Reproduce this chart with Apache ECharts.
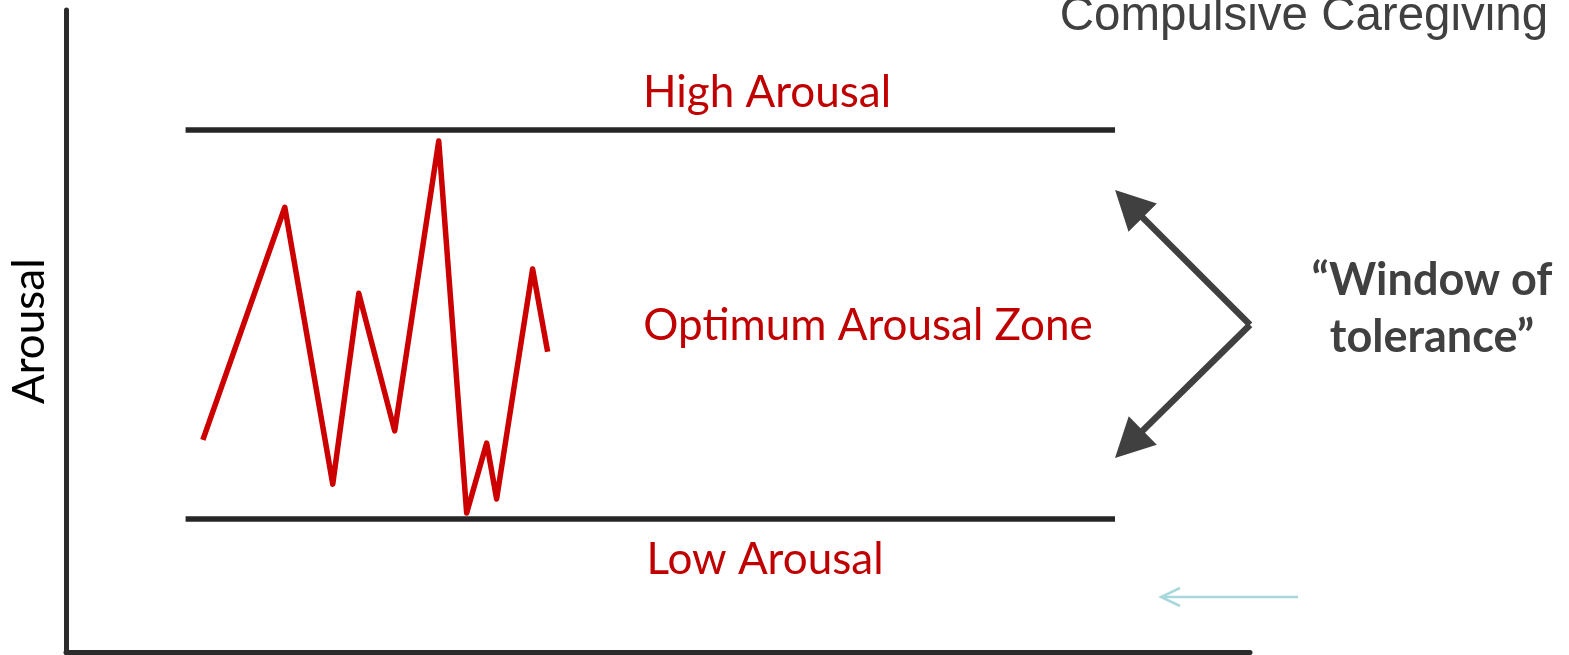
<!DOCTYPE html>
<html>
<head>
<meta charset="utf-8">
<title>Window of tolerance</title>
<script src="https://cdn.jsdelivr.net/npm/echarts@6/dist/echarts.min.js"></script>
<style>
  html, body { margin: 0; padding: 0; background: #fff; }
  #container { width: 1569px; height: 655px; }
</style>
</head>
<body>
<div id="container"></div>
<script>
// arousal trace (time, arousal level)
var timeSteps = [11.56, 18.48, 22.53, 24.73, 27.76, 31.48, 33.84, 35.53, 36.37, 39.41, 40.68];
var arousal = [33.1, 69.3, 26.2, 55.9, 34.5, 79.6, 21.7, 32.6, 23.9, 59.7, 46.8];

// zone limits
var highArousal = 81.3;
var lowArousal = 20.8;
var zoneStart = 10.1;
var zoneEnd = 88.6;

// "window of tolerance" arrows: vertex, upper head, lower head (head centres)
var windowVertex = [100, 51.0];
var windowUpper = [89.77, 69.84];
var windowLower = [89.77, 32.42];

var dom = document.getElementById("container");
var myChart = echarts.init(dom);

function getLineData() {
	var arr = [];
	for (var i = 0; i < timeSteps.length; i++) {
		arr.push([timeSteps[i], arousal[i]]);
	}
	return arr;
}

function centerText(x, y, text, font, color) {
	return {
		type: 'text', x: x, y: y,
		style: {
			text: text, font: font, fill: color,
			align: 'center', verticalAlign: 'middle',
			textAlign: 'center', textVerticalAlign: 'middle'
		}
	};
}

var redFont = '44px Lato';
var arrowColor = '#404040';

var option = {
	animation: false,
	grid: { left: 65, top: 10, right: 319, bottom: 2.5 },
	xAxis: {
		type: 'value', min: 0, max: 100,
		axisLine: { show: true, lineStyle: { color: '#2b2b2b', width: 5 } },
		axisTick: { show: false }, axisLabel: { show: false }, splitLine: { show: false }
	},
	yAxis: {
		type: 'value', min: 0, max: 100,
		name: 'Arousal', nameLocation: 'middle', nameRotate: 90, nameGap: 14,
		nameTextStyle: { fontFamily: 'Lato', fontSize: 44, color: '#000' },
		axisLine: { show: true, lineStyle: { color: '#2b2b2b', width: 5 } },
		axisTick: { show: false }, axisLabel: { show: false }, splitLine: { show: false }
	},
	series: [
		{
			type: 'line',
			data: getLineData(),
			symbol: 'none',
			clip: false,
			lineStyle: { color: '#cc0000', width: 5.5, join: 'round' },
			z: 5,
			markLine: {
				silent: true,
				symbol: ['none', 'none'],
				label: { show: false },
				emphasis: { disabled: true },
				lineStyle: { type: 'solid', color: '#262626', width: 5.5 },
				data: [
					[{ coord: [zoneStart, highArousal] }, { coord: [zoneEnd, highArousal] }],
					[{ coord: [zoneStart, lowArousal] }, { coord: [zoneEnd, lowArousal] }],
					[
						{ coord: windowVertex, symbol: 'none', lineStyle: { color: arrowColor, width: 6.5 } },
						{ coord: windowUpper, symbol: 'triangle', symbolSize: [40, 39] }
					],
					[
						{ coord: windowVertex, symbol: 'none', lineStyle: { color: arrowColor, width: 6.5 } },
						{ coord: windowLower, symbol: 'triangle', symbolSize: [40, 39] }
					]
				]
			}
		}
	],
	graphic: [
		centerText(767, 93, 'High Arousal', redFont, '#c00000'),
		centerText(868, 326, 'Optimum Arousal Zone', redFont, '#c00000'),
		centerText(765, 560, 'Low Arousal', redFont, '#c00000'),
		centerText(1432, 280, '\u201cWindow of', 'bold 45px Lato', '#404040'),
		centerText(1432, 337, 'tolerance\u201d', 'bold 45px Lato', '#404040'),
		centerText(1304, 17, 'Compulsive Caregiving', '47.5px "Liberation Sans"', '#404040'),
		// small pointer arrow at the bottom right
		{ type: 'line', shape: { x1: 1298, y1: 597, x2: 1161, y2: 597 }, style: { stroke: '#a9d8dc', lineWidth: 2.5 } },
		{ type: 'polyline', shape: { points: [[1180, 588], [1161, 597], [1180, 606]] }, style: { stroke: '#a9d8dc', lineWidth: 2.5, fill: null } }
	]
};

myChart.setOption(option);
</script>
</body>
</html>
